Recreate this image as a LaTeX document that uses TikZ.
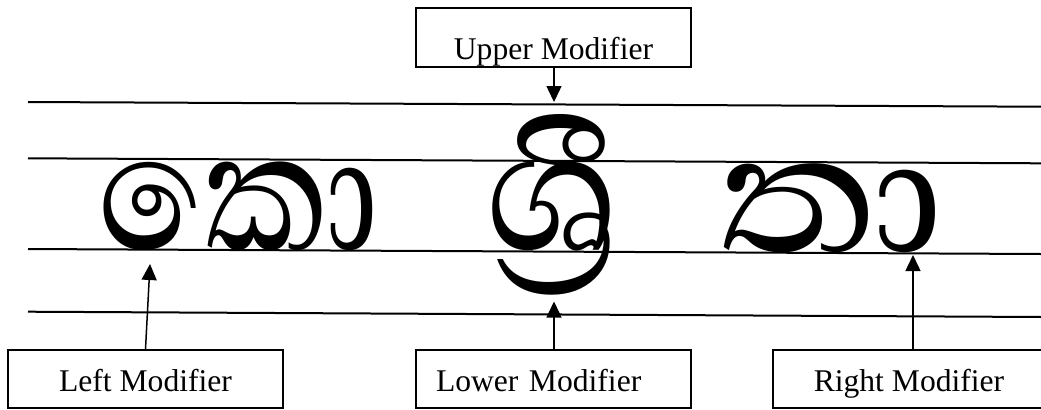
\documentclass[tikz,border=0pt]{standalone}
\usepackage{fontspec}
\setmainfont{Liberation Serif}
\newfontfamily\sinhalafont[Script=Sinhala]{Abhaya Libre}
\usetikzlibrary{arrows.meta}

\begin{document}
\begin{tikzpicture}[x=0.5pt,y=-0.5pt,
  guide/.style={line width=1pt},
  modbox/.style={draw, line width=1pt, inner sep=0pt, minimum width=137.5pt,
    font=\fontsize{15.8}{18}\selectfont},
  bottombox/.style={modbox, text height=20.5pt, text depth=8.5pt},
  arr/.style={line width=0.75pt, -{Triangle[length=8pt,width=7.5pt]}},
  glyph/.style={inner sep=0pt, anchor=base, font=\sinhalafont\fontsize{107}{120}\selectfont}]
\useasboundingbox (0,0) rectangle (1041,409);

% writing guide lines
\draw[guide] (28,102)   -- (1042,106.7);
\draw[guide] (28,158.3) -- (1042,163.3);
\draw[guide] (28,249)   -- (1042,254);
\draw[guide] (28,311.7) -- (1042,317);

% sample letters
\node[glyph, xscale=0.82] (ko)   at (239,250) {කො};
\node[glyph, xscale=1.05] (shri) at (553,250) {ශ්^^^^200dරී};
\node[glyph, xscale=1.1]  (tha)  at (832,252) {තා};

% modifier boxes
\node[modbox, text height=25.5pt, text depth=4pt] (um) at (553.5,37.5) {Upper Modifier};
\node[bottombox] (lm) at (145.5,379) {Left Modifier};
\node[bottombox, text width=117.5pt, inner xsep=10pt, align=left] (lo) at (553.5,379) {Lower Modifier};
\node[bottombox, minimum width=136pt] (rm) at (909,379) {Right Modifier};

% arrow tips
\coordinate (tipU) at (554,102);
\coordinate (tipL) at (150,264);
\coordinate (tipD) at (554,301.5);
\coordinate (tipR) at (913,255);

\draw[arr] (um.south -| tipU) -- (tipU);
\draw[arr] (lm.north) -- (tipL);
\draw[arr] (lo.north -| tipD) -- (tipD);
\draw[arr] (rm.north -| tipR) -- (tipR);
\end{tikzpicture}
\end{document}
